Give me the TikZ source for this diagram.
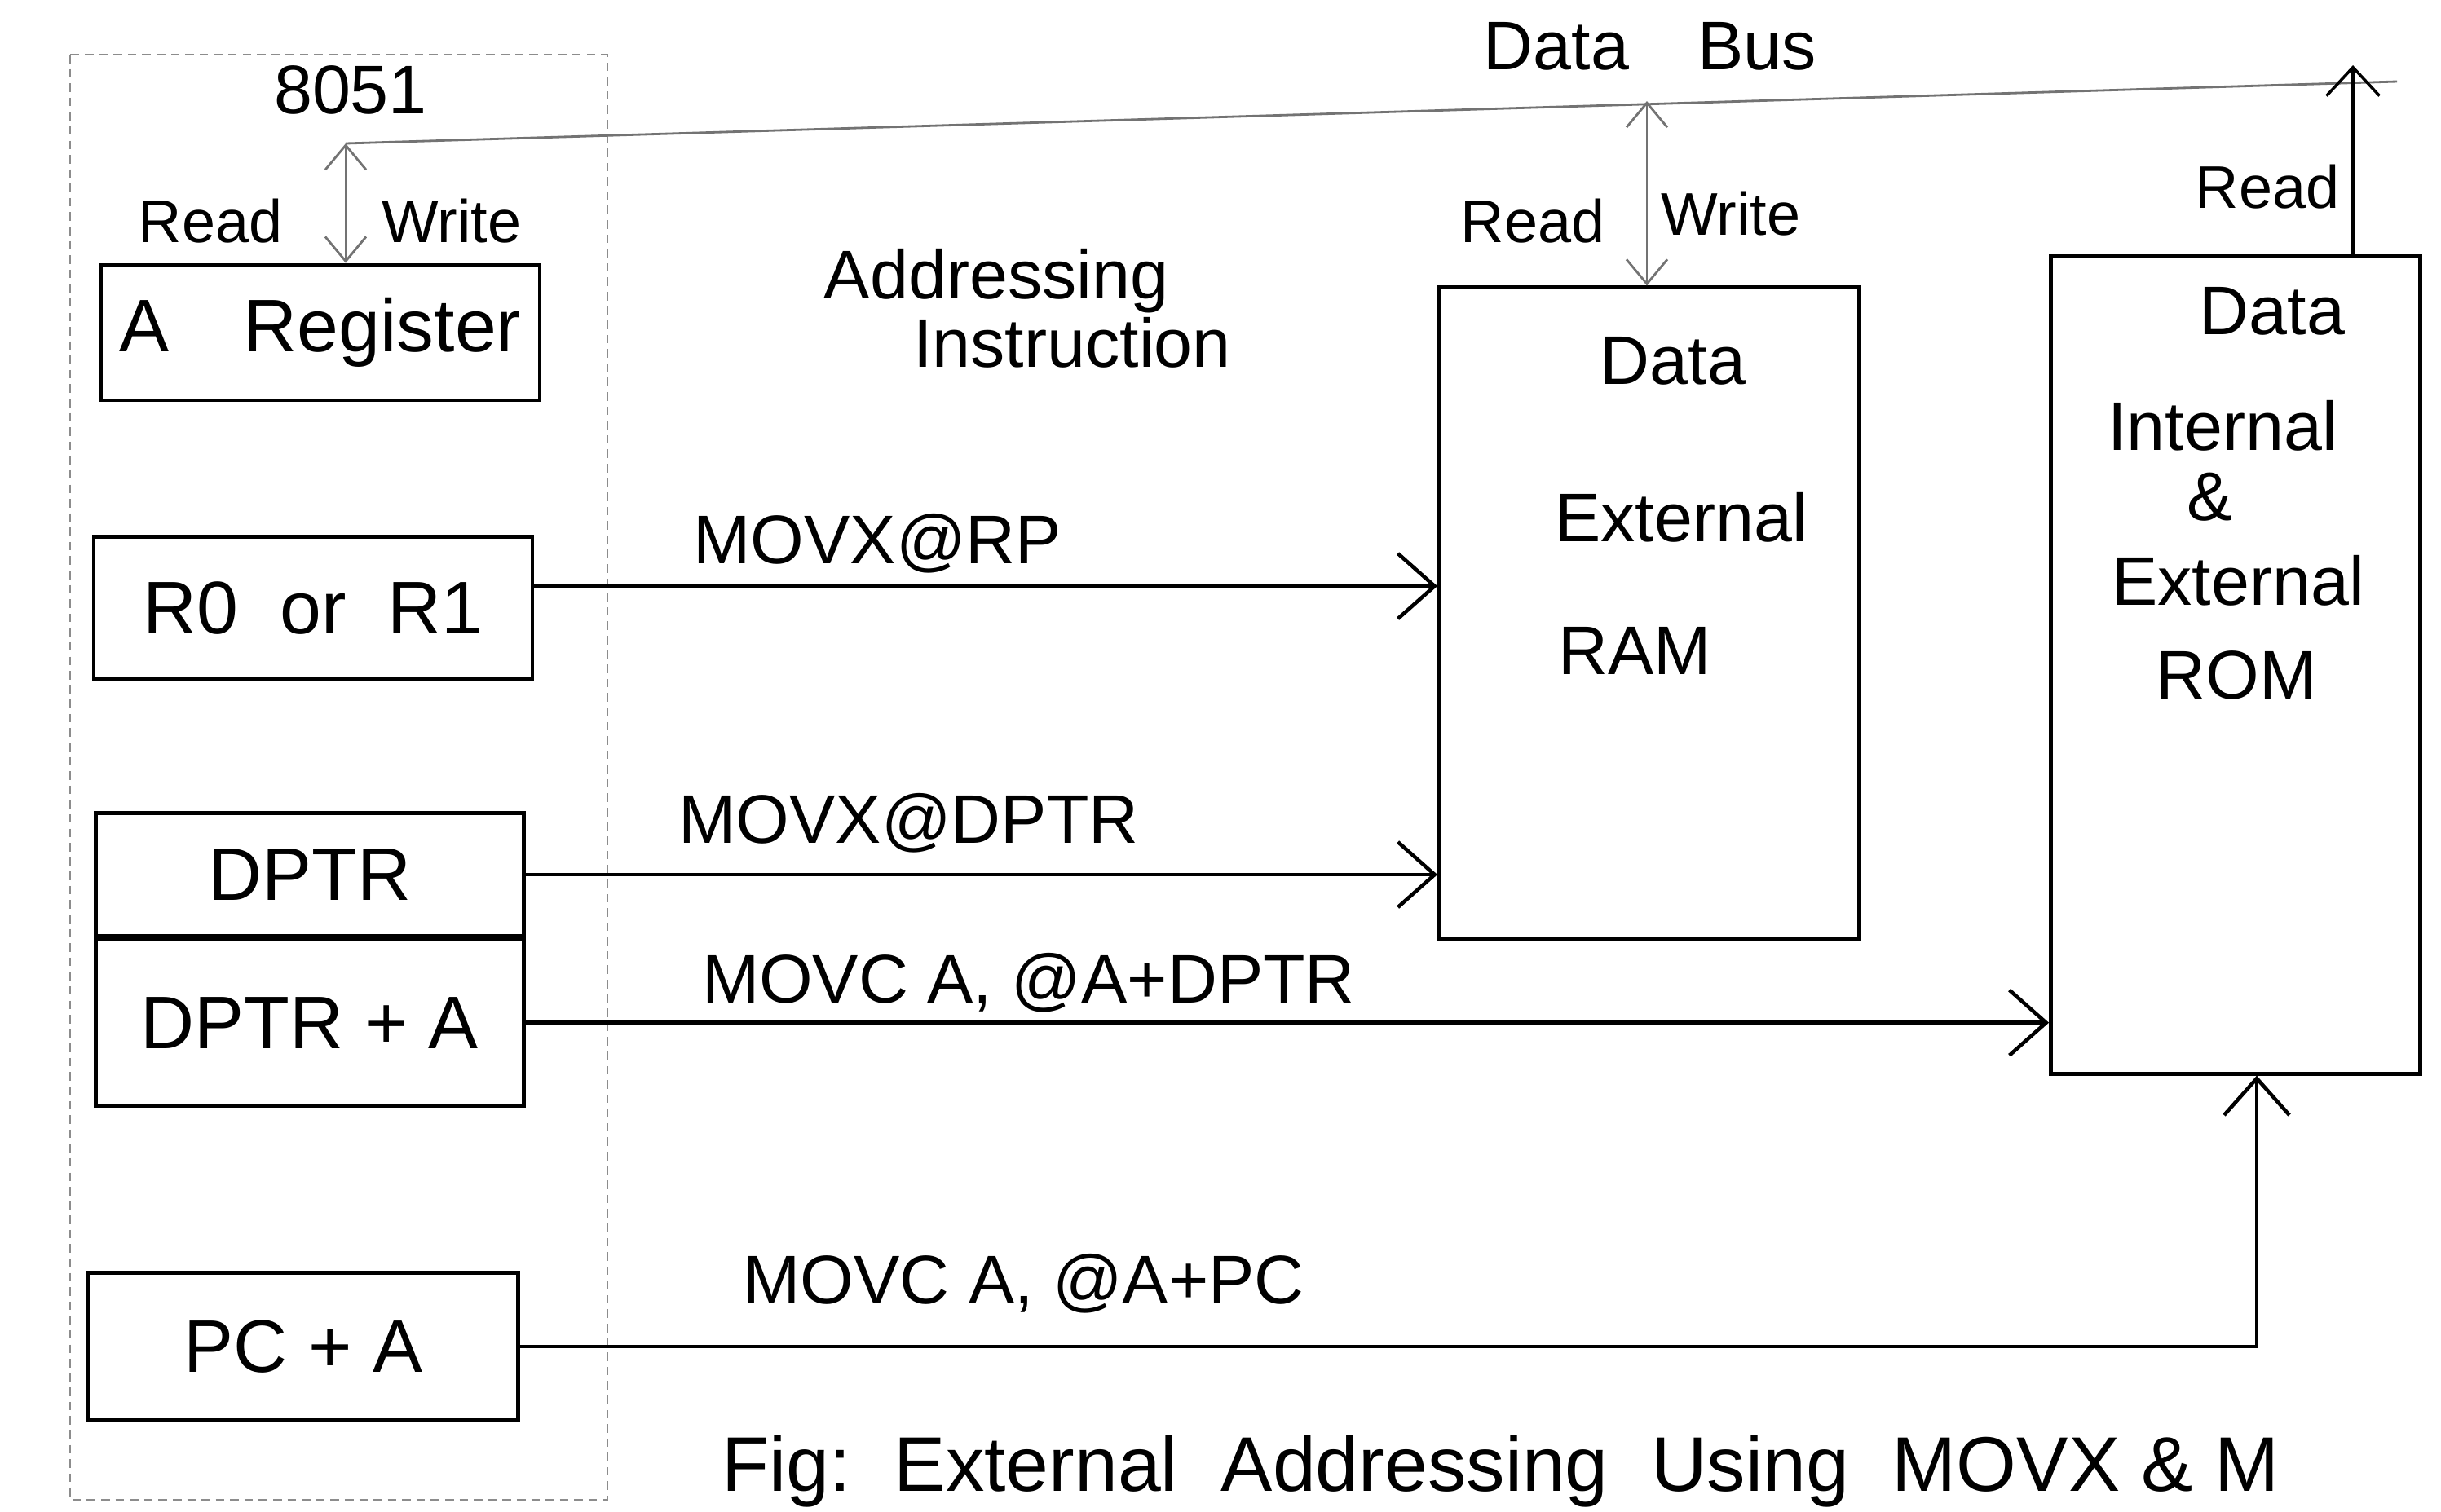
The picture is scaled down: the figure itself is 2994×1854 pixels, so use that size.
\documentclass[tikz,border=0pt]{standalone}
\usepackage{fontspec}
\setmainfont{Liberation Sans}
\usetikzlibrary{arrows.meta, positioning, calc}

\begin{document}
\begin{tikzpicture}[x=0.01cm, y=-0.01cm,
    reg/.style={draw, line width=1.3pt, inner sep=0pt,
                font=\fontsize{26}{30}\selectfont},
    mem/.style={draw, line width=1.3pt, inner sep=0pt},
    txt/.style={font=\fontsize{24}{28}\selectfont, inner sep=1pt},
    rw/.style={font=\fontsize{21}{25}\selectfont, inner sep=1pt},
    arr/.style={-{Straight Barb[length=4.5mm, width=8mm]}, line width=1.3pt},
    rdarr/.style={-{Straight Barb[length=3.5mm, width=6.5mm]}, line width=1pt},
    bus/.style={line width=0.8pt, black!55},
    busarr/.style={{Straight Barb[length=3mm, width=5mm]}-{Straight Barb[length=3mm, width=5mm]},
                   line width=0.8pt, black!55},
]
    \useasboundingbox (0,0) rectangle (2994,1854);

    % 8051 side
    \draw[densely dashed, black!45, line width=0.8pt] (86,67) rectangle (745,1840);
    \node[txt] (chip) at (430,110) {8051};

    \node[reg, minimum width=5.38cm, minimum height=1.66cm] (areg) at (393,408) {A\quad Register};
    \node[reg, minimum width=5.38cm, minimum height=1.75cm] (rsel) at (384,746) {R0 \ or \ R1};
    \node[reg, minimum width=5.25cm, minimum height=1.51cm] (dptr) at (380,1073) {DPTR};
    \node[reg, minimum width=5.25cm, minimum height=2.03cm, below=0pt of dptr] (dptra) {DPTR + A};
    \node[reg, minimum width=5.27cm, minimum height=1.81cm] (pca) at (372,1652) {PC + A};

    % memories
    \node[mem, minimum width=5.15cm, minimum height=7.98cm] (ram) at (2023,752) {};
    \node[txt] (ramd) at (2052,443) {Data};
    \node[txt] (rame) at (2062,634) {External};
    \node[txt] (ramr) at (2005,798) {RAM};

    \node[mem, minimum width=4.53cm, minimum height=10.02cm] (rom) at (2742,816) {};
    \node[txt] (romd) at (2787,382) {Data};
    \node[txt] (romi) at (2726,522) {Internal};
    \node[txt] (roma) at (2711,610) {\&};
    \node[txt] (rome) at (2745,712) {External};
    \node[txt] (romr) at (2743,828) {ROM};

    % data bus
    \coordinate (busl) at (424,176);
    \coordinate (busr) at (2940,100);
    \coordinate (ramtap) at (2020,124);
    \coordinate (romtap) at (2886,80);
    \draw[bus] (busl) -- (busr);
    \draw[busarr] (busl) -- (busl |- areg.north);
    \draw[busarr] (ramtap) -- (ramtap |- ram.north);
    \draw[rdarr] (romtap |- rom.north) -- (romtap);

    \node[txt] (dbus) at (2024,57) {Data\quad Bus};
    \node[rw] (ard) at (258,271) {Read};
    \node[rw] (awr) at (554,271) {Write};
    \node[rw] (rrd) at (1880,271) {Read};
    \node[rw] (rwr) at (2123,262) {Write};
    \node[rw] (ord) at (2781,229) {Read};

    \node[txt] (addr) at (1222,345) {Addressing};
    \node[txt] (instr) at (1315,420) {Instruction};

    % instructions
    \draw[arr] ($(rsel.north east)!0.35!(rsel.south east)$) coordinate (rsrc)
        -- node[txt, above=3pt, pos=0.38] (movxr) {MOVX@RP} (rsrc -| ram.west);
    \draw[arr] (dptr.east)
        -- node[txt, above=6pt, pos=0.42] (movxd) {MOVX@DPTR} (dptr.east -| ram.west);
    \draw[arr] (dptra.east)
        -- node[txt, above=2pt, pos=0.33] (movcd) {MOVC A, @A+DPTR} (dptra.east -| rom.west);
    \coordinate (pcturn) at (2768,1652);
    \draw[arr] (pca.east)
        -- node[txt, above=10pt, pos=0.29] (movcp) {MOVC A, @A+PC} (pcturn)
        -- (pcturn |- rom.south);

    \node[font=\fontsize{27}{31}\selectfont, anchor=south west, inner sep=0pt] (cap)
        at (885,1850) {Fig:\ \ External\ \ Addressing\ \ Using\ \ MOVX \& M};
\end{tikzpicture}
\end{document}
